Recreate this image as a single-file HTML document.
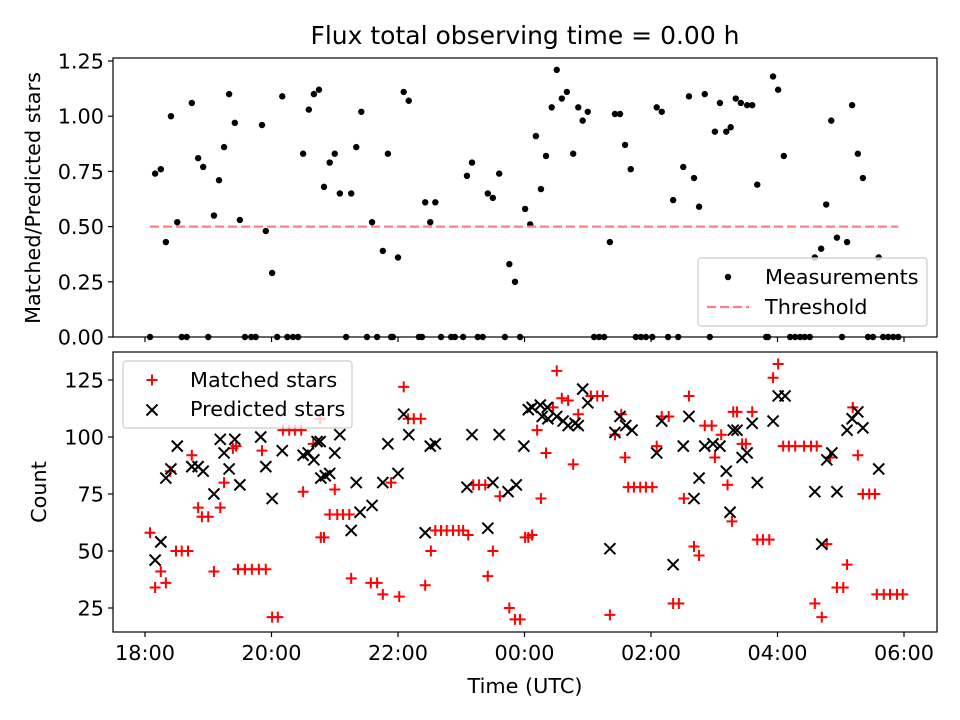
<!DOCTYPE html>
<html><head><meta charset="utf-8"><style>
html,body{margin:0;padding:0;background:#fff;}
svg{display:block;font-family:"DejaVu Sans","Liberation Sans",sans-serif;}
</style></head><body>
<svg id="fig" width="960" height="720" viewBox="0 0 960 720" xmlns="http://www.w3.org/2000/svg">
<rect x="0" y="0" width="960" height="720" fill="#fff"/>
<text x="525" y="44" font-size="25" text-anchor="middle">Flux total observing time = 0.00 h</text>
<g id="topPanel"></g>
<g id="botPanel"></g>
<text x="525" y="693" font-size="20.8" text-anchor="middle">Time (UTC)</text>
<text transform="translate(40,198) rotate(-90)" font-size="20.8" text-anchor="middle">Matched/Predicted stars</text>
<text transform="translate(46,492) rotate(-90)" font-size="20.8" text-anchor="middle">Count</text>
</svg>
<script>
// hours since 18:00 UTC
const ratioTimes = [0.16,0.25,0.33,0.41,0.51,0.74,0.84,0.92,1.09,1.17,1.25,1.33,1.42,1.50,1.85,1.91,2.01,2.17,2.50,2.59,2.67,2.75,2.83,2.92,3.00,3.08,3.26,3.34,3.42,3.59,3.76,3.84,4.00,4.09,4.17,4.43,4.51,4.59,5.09,5.17,5.42,5.50,5.60,5.76,5.85,6.01,6.09,6.18,6.26,6.34,6.43,6.51,6.59,6.67,6.77,6.85,6.92,7.00,7.35,7.43,7.51,7.59,7.68,8.09,8.17,8.35,8.51,8.60,8.68,8.76,8.85,9.01,9.09,9.19,9.26,9.34,9.42,9.52,9.60,9.68,9.93,10.01,10.10,10.59,10.69,10.77,10.85,10.94,11.10,11.18,11.27,11.35,11.60,
0.08,0.58,0.66,1.00,1.58,1.68,1.75,2.09,2.25,2.34,2.42,3.18,3.51,3.67,3.89,3.92,4.33,4.38,4.68,4.84,4.90,5.03,5.26,5.34,5.69,5.93,7.10,7.18,7.26,7.76,7.84,7.92,8.02,8.27,8.43,8.93,9.82,9.85,10.20,10.28,10.36,10.43,10.51,11.02,11.43,11.51,11.67,11.75,11.83,11.91];
const ratioValues = [0.74,0.76,0.43,1.00,0.52,1.06,0.81,0.77,0.55,0.71,0.86,1.10,0.97,0.53,0.96,0.48,0.29,1.09,0.83,1.03,1.10,1.12,0.68,0.79,0.83,0.65,0.65,0.86,1.02,0.52,0.39,0.83,0.36,1.11,1.07,0.61,0.52,0.61,0.73,0.79,0.65,0.63,0.74,0.33,0.25,0.58,0.51,0.91,0.67,0.82,1.04,1.21,1.08,1.11,0.83,1.04,0.98,1.02,0.43,1.01,1.01,0.87,0.76,1.04,1.02,0.62,0.77,1.09,0.72,0.59,1.10,0.93,1.06,0.93,0.95,1.08,1.06,1.05,1.05,0.69,1.18,1.12,0.82,0.36,0.40,0.60,0.98,0.45,0.43,1.05,0.83,0.72,0.36,
0,0,0,0,0,0,0,0,0,0,0,0,0,0,0,0,0,0,0,0,0,0,0,0,0,0,0,0,0,0,0,0,0,0,0,0,0,0,0,0,0,0,0,0,0,0,0,0,0,0];
const threshold = 0.5;
const matchedTimes = [0.08,0.25,0.33,0.16,0.40,0.74,0.84,0.90,1.00,1.19,1.25,0.49,0.58,0.68,1.09,1.47,1.58,1.69,1.80,1.91,2.01,2.10,1.39,1.44,1.85,2.18,2.28,2.37,2.47,2.50,2.66,2.77,2.78,4.09,4.16,4.25,4.36,3.00,2.92,3.04,3.13,3.23,2.83,3.26,3.57,3.67,3.76,4.02,4.43,3.89,4.52,4.59,4.68,4.77,4.87,4.96,5.03,5.11,5.19,5.28,5.38,5.61,5.50,5.42,5.76,5.85,5.93,6.01,6.06,6.51,6.59,6.69,7.05,7.15,7.24,6.45,6.85,6.20,6.34,6.77,6.26,6.12,7.53,7.43,7.59,7.64,7.73,7.83,7.92,8.02,7.35,8.17,8.28,8.09,8.60,8.85,8.96,9.11,9.01,9.21,8.52,8.68,8.76,8.35,8.44,9.28,9.30,10.01,9.93,9.36,9.60,9.50,9.44,10.09,10.18,10.28,10.42,10.53,10.62,9.68,9.77,9.87,10.78,11.19,10.83,11.27,11.35,11.45,11.54,11.10,10.94,11.04,10.59,10.70,11.57,11.68,11.78,11.89,11.98];
const matchedCounts = [58,41,36,34,85,92,69,65,65,69,80,50,50,50,41,42,42,42,42,42,21,21,95,96,94,103,103,103,103,76,97,108,56,122,108,108,108,77,66,66,66,66,56,38,36,36,31,30,35,80,50,59,59,59,59,59,59,57,79,79,79,74,50,39,25,20,20,56,56,129,117,116,118,118,118,113,110,103,93,88,73,57,110,101,91,78,78,78,78,78,22,109,109,96,118,105,105,101,91,79,73,52,48,27,27,63,111,132,126,111,111,97,97,96,96,96,96,96,96,55,55,55,53,113,91,92,75,75,75,44,34,34,27,21,31,31,31,31,31];
const predictedTimes = [0.25,0.16,0.33,0.41,0.51,0.74,0.84,0.92,1.09,1.19,1.42,1.25,1.33,1.50,1.83,1.91,2.01,2.17,2.50,2.58,2.67,2.72,2.78,2.77,3.08,3.00,2.85,2.92,3.34,3.26,3.40,3.59,3.76,4.00,3.84,4.09,4.17,4.51,4.59,5.17,5.60,5.99,6.06,5.09,5.50,5.74,5.87,4.43,5.42,6.12,6.25,6.36,6.28,6.37,6.51,6.61,6.69,6.80,6.85,6.92,7.00,7.51,7.60,7.70,7.43,8.17,8.09,8.60,8.51,8.85,8.98,9.09,9.30,9.19,8.76,8.68,7.35,8.35,9.25,10.01,10.12,9.36,9.60,9.93,9.52,9.44,9.68,10.59,10.94,10.78,10.86,10.70,11.10,11.18,11.27,11.35,11.60];
const predictedCounts = [54,46,82,86,96,87,87,85,75,99,99,93,86,79,100,87,73,94,92,93,90,98,82,98,101,93,83,84,80,59,67,70,80,84,97,110,101,96,97,101,101,96,112,78,80,76,79,58,60,113,114,113,109,108,109,107,105,106,105,121,115,109,105,103,102,107,93,109,96,96,97,96,103,85,82,73,51,44,67,118,118,103,106,107,93,91,80,76,76,90,93,53,103,108,111,104,86];
const xTickHours = [0,2,4,6,8,10,12];
const xTickLabels = ["18:00","20:00","22:00","00:00","02:00","04:00","06:00"];
const topTicks = [0,0.25,0.5,0.75,1.0,1.25];
const topTickLabels = ["0.00","0.25","0.50","0.75","1.00","1.25"];
const botTicks = [25,50,75,100,125];

const NS="http://www.w3.org/2000/svg";
const L=113,R=937;
const FS=20.8;
function xs(h){return 145+h*63.25;}
function yTop(v){return 337-v*220.8;}
function yBot(c){return 665-c*2.28;}
function mk(tag,attrs,parent){const e=document.createElementNS(NS,tag);for(const k in attrs)e.setAttribute(k,attrs[k]);parent.appendChild(e);return e;}
const topG=document.getElementById('topPanel'), botG=document.getElementById('botPanel');

function axes(g,y1,labels){
  for(let i=0;i<xTickHours.length;i++){
    const x=xs(xTickHours[i]);
    const t=mk('line',{x1:x,x2:x,y1:y1,y2:y1+5,stroke:'#000','stroke-width':1.2},g);
    
    
    if(labels){
      const tx=mk('text',{x:x,y:y1+28,'font-size':FS,'text-anchor':'middle'},g);
      tx.textContent=xTickLabels[i];
      
      
    }
  }
}
// top panel
for(let i=0;i<ratioTimes.length;i++){
  const c=mk('circle',{cx:xs(ratioTimes[i]),cy:yTop(ratioValues[i]),r:3.2,fill:'#000'},topG);
  
  
}
const tmin=Math.min(...ratioTimes), tmax=Math.max(...ratioTimes);
const th=mk('line',{x1:xs(tmin),x2:xs(tmax),y1:yTop(threshold),y2:yTop(threshold),stroke:'#ff8080','stroke-width':2.2,'stroke-dasharray':'9,4'},topG);


for(let i=0;i<topTicks.length;i++){
  const y=yTop(topTicks[i]);
  mk('line',{x1:L-5,x2:L,y1:y,y2:y,stroke:'#000','stroke-width':1.2},topG);
  const tx=mk('text',{x:L-9,y:y+7.5,'font-size':FS,'text-anchor':'end'},topG);
  tx.textContent=topTickLabels[i];
  
  
}
axes(topG,337,false);
mk('rect',{x:L,y:58,width:R-L,height:279,fill:'none',stroke:'#000','stroke-width':1.2},topG);
// top legend
const lg=mk('g',{},topG);


mk('rect',{x:698,y:258,width:229,height:68,rx:3,fill:'#fff','fill-opacity':0.8,stroke:'#ccc','stroke-width':1.2},lg);
mk('circle',{cx:728,cy:277,r:3.2,fill:'#000'},lg);
let t1=mk('text',{x:765,y:284,'font-size':FS},lg);t1.textContent='Measurements';


mk('line',{x1:707,x2:749,y1:307,y2:307,stroke:'#ff8080','stroke-width':2.2,'stroke-dasharray':'9,4'},lg);
let t2=mk('text',{x:765,y:314,'font-size':FS},lg);t2.textContent='Threshold';



// bottom panel
function plus(g,x,y,col){mk('path',{d:`M${x-5.5},${y}H${x+5.5}M${x},${y-5.5}V${y+5.5}`,stroke:col,'stroke-width':2,fill:'none'},g);}
function cross(g,x,y,col){mk('path',{d:`M${x-5.5},${y-5.5}L${x+5.5},${y+5.5}M${x-5.5},${y+5.5}L${x+5.5},${y-5.5}`,stroke:col,'stroke-width':2,fill:'none'},g);}
const mg=mk('g',{},botG);


for(let i=0;i<matchedTimes.length;i++)plus(mg,xs(matchedTimes[i]),yBot(matchedCounts[i]),'#ff0000');
const pg=mk('g',{},botG);


for(let i=0;i<predictedTimes.length;i++)cross(pg,xs(predictedTimes[i]),yBot(predictedCounts[i]),'#000');
for(let i=0;i<botTicks.length;i++){
  const y=yBot(botTicks[i]);
  mk('line',{x1:L-5,x2:L,y1:y,y2:y,stroke:'#000','stroke-width':1.2},botG);
  const tx=mk('text',{x:L-9,y:y+7.5,'font-size':FS,'text-anchor':'end'},botG);
  tx.textContent=String(botTicks[i]);
  
  
}
axes(botG,632,true);
mk('rect',{x:L,y:352,width:R-L,height:280,fill:'none',stroke:'#000','stroke-width':1.2},botG);
const lg2=mk('g',{},botG);


mk('rect',{x:123,y:361,width:229,height:67,rx:3,fill:'#fff','fill-opacity':0.8,stroke:'#ccc','stroke-width':1.2},lg2);
plus(lg2,152,380,'#ff0000');
let t3=mk('text',{x:190,y:387,'font-size':FS},lg2);t3.textContent='Matched stars';


cross(lg2,152,410,'#000');
let t4=mk('text',{x:190,y:416,'font-size':FS},lg2);t4.textContent='Predicted stars';


</script>
</body></html>
